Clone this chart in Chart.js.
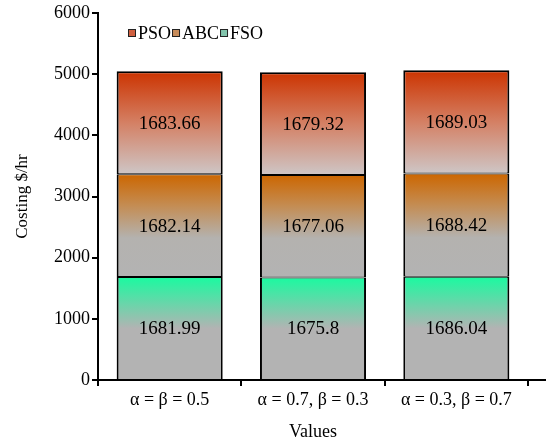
<!DOCTYPE html>
<html><head><meta charset="utf-8">
<script src="https://cdn.jsdelivr.net/npm/chart.js@4.4.0/dist/chart.umd.min.js"></script>
<style>html,body{margin:0;padding:0;background:#fff}#wrap{width:546px;height:444px}</style>
</head><body><div id="wrap"><canvas id="c" width="546" height="444"></canvas></div>
<script>
const categories = ['α = β = 0.5', 'α = 0.7, β = 0.3', 'α = 0.3, β = 0.7'];
const fsoValues = [1681.99, 1675.8, 1686.04];
const abcValues = [1682.14, 1677.06, 1688.42];
const psoValues = [1683.66, 1679.32, 1689.03];
const yMin = 0, yMax = 6000, yStep = 1000;
const seriesNames = ['FSO', 'ABC', 'PSO'];

const FONT = '"Liberation Serif", "Times New Roman", serif';

const stopsFSO = [[0, 'rgb(26,250,160)'], [0.5, 'rgb(179,179,179)'], [1, 'rgb(179,179,179)']];
const stopsABC = [[0, 'rgb(204,102,0)'], [0.3, 'rgb(196,140,82)'], [0.62, 'rgb(180,178,175)'], [1, 'rgb(179,179,179)']];
const stopsPSO = [[0, 'rgb(204,51,0)'], [0.5, 'rgb(212,128,100)'], [1, 'rgb(206,198,198)']];

const allSeries = [fsoValues, abcValues, psoValues];

function gradFor(stops, level) {
  return function (ctx) {
    const chart = ctx.chart;
    const y = chart.scales && chart.scales.y;
    if (!y || ctx.type !== 'data' || !chart.chartArea) return stops[0][1];
    const i = ctx.dataIndex;
    let base = 0;
    for (let k = 0; k < level; k++) base += allSeries[k][i];
    const top = y.getPixelForValue(base + allSeries[level][i]);
    const bot = y.getPixelForValue(base);
    if (!isFinite(top) || !isFinite(bot) || top === bot) return stops[0][1];
    const g = chart.ctx.createLinearGradient(0, top, 0, bot);
    stops.forEach(s => g.addColorStop(s[0], s[1]));
    return g;
  };
}

const legendColors = { PSO: 'rgb(208,96,64)', ABC: 'rgb(200,140,90)', FSO: 'rgb(130,196,172)' };

const customPlugin = {
  id: 'custom',
  afterDatasetsDraw(chart) {
    const ctx = chart.ctx;
    ctx.save();
    ctx.font = '19px ' + FONT;
    ctx.fillStyle = '#000';
    ctx.textAlign = 'center';
    ctx.textBaseline = 'middle';
    chart.data.datasets.forEach((ds, di) => {
      const meta = chart.getDatasetMeta(di);
      meta.data.forEach((el, i) => {
        const p = el.getProps(['x', 'y', 'base'], true);
        ctx.fillText(String(ds.data[i]), p.x, (p.y + p.base) / 2 + 1);
      });
    });
    ctx.restore();
  },
  afterDraw(chart) {
    const ctx = chart.ctx;
    const ca = chart.chartArea;
    ctx.save();
    ctx.strokeStyle = '#000';
    ctx.lineWidth = 2;
    ctx.beginPath();
    ctx.moveTo(ca.right, ca.bottom);
    ctx.lineTo(chart.width, ca.bottom);
    ctx.stroke();
    ctx.font = '18px ' + FONT;
    ctx.textBaseline = 'middle';
    ctx.textAlign = 'left';
    let x = 128;
    const yc = 33;
    ['PSO', 'ABC', 'FSO'].forEach(name => {
      ctx.fillStyle = legendColors[name];
      ctx.fillRect(x, yc - 4, 8, 8);
      ctx.strokeStyle = '#222';
      ctx.lineWidth = 1;
      ctx.strokeRect(x + 0.5, yc - 3.5, 7, 7);
      x += 10;
      ctx.fillStyle = '#000';
      ctx.fillText(name, x, yc + 1);
      x += ctx.measureText(name).width + 1;
    });
    ctx.restore();
  }
};

const borderFor = level => ({ top: level === 2 ? 2 : 1, bottom: level === 0 ? 0 : 1, left: 2, right: 2 });

const datasets = [
  { label: seriesNames[0], data: fsoValues, backgroundColor: gradFor(stopsFSO, 0), borderWidth: borderFor(0) },
  { label: seriesNames[1], data: abcValues, backgroundColor: gradFor(stopsABC, 1), borderWidth: borderFor(1) },
  { label: seriesNames[2], data: psoValues, backgroundColor: gradFor(stopsPSO, 2), borderWidth: borderFor(2) }
].map(d => Object.assign(d, {
  borderColor: '#000', borderSkipped: false,
  categoryPercentage: 1.0, barPercentage: 0.74
}));

new Chart(document.getElementById('c'), {
  type: 'bar',
  data: { labels: categories, datasets },
  options: {
    responsive: false,
    animation: false,
    layout: { padding: { top: 13, right: 18, left: 0, bottom: 0 } },
    plugins: { legend: { display: false }, tooltip: { enabled: false } },
    scales: {
      x: {
        stacked: true,
        afterFit(s) { s.height = 64; },
        grid: { display: true, drawOnChartArea: false, drawTicks: true, tickLength: 6, color: '#000', lineWidth: 2 },
        border: { display: true, color: '#000', width: 2 },
        ticks: { color: '#000', font: { family: FONT, size: 18 }, padding: 3, maxRotation: 0, autoSkip: false },
        title: { display: true, text: 'Values', color: '#000', font: { family: FONT, size: 18 }, padding: { top: 0, bottom: 1 } }
      },
      y: {
        stacked: true,
        min: yMin, max: yMax,
        afterFit(s) { s.width = 98; },
        grid: { display: true, drawOnChartArea: false, drawTicks: true, tickLength: 6, color: '#000', lineWidth: 2 },
        border: { display: true, color: '#000', width: 2 },
        ticks: { stepSize: yStep, color: '#000', font: { family: FONT, size: 18 }, padding: 2, callback: v => String(v) },
        title: { display: true, text: 'Costing $/hr', color: '#000', font: { family: FONT, size: 17 }, padding: { top: 12, bottom: 0 } }
      }
    }
  },
  plugins: [customPlugin]
});
</script>
</body></html>
